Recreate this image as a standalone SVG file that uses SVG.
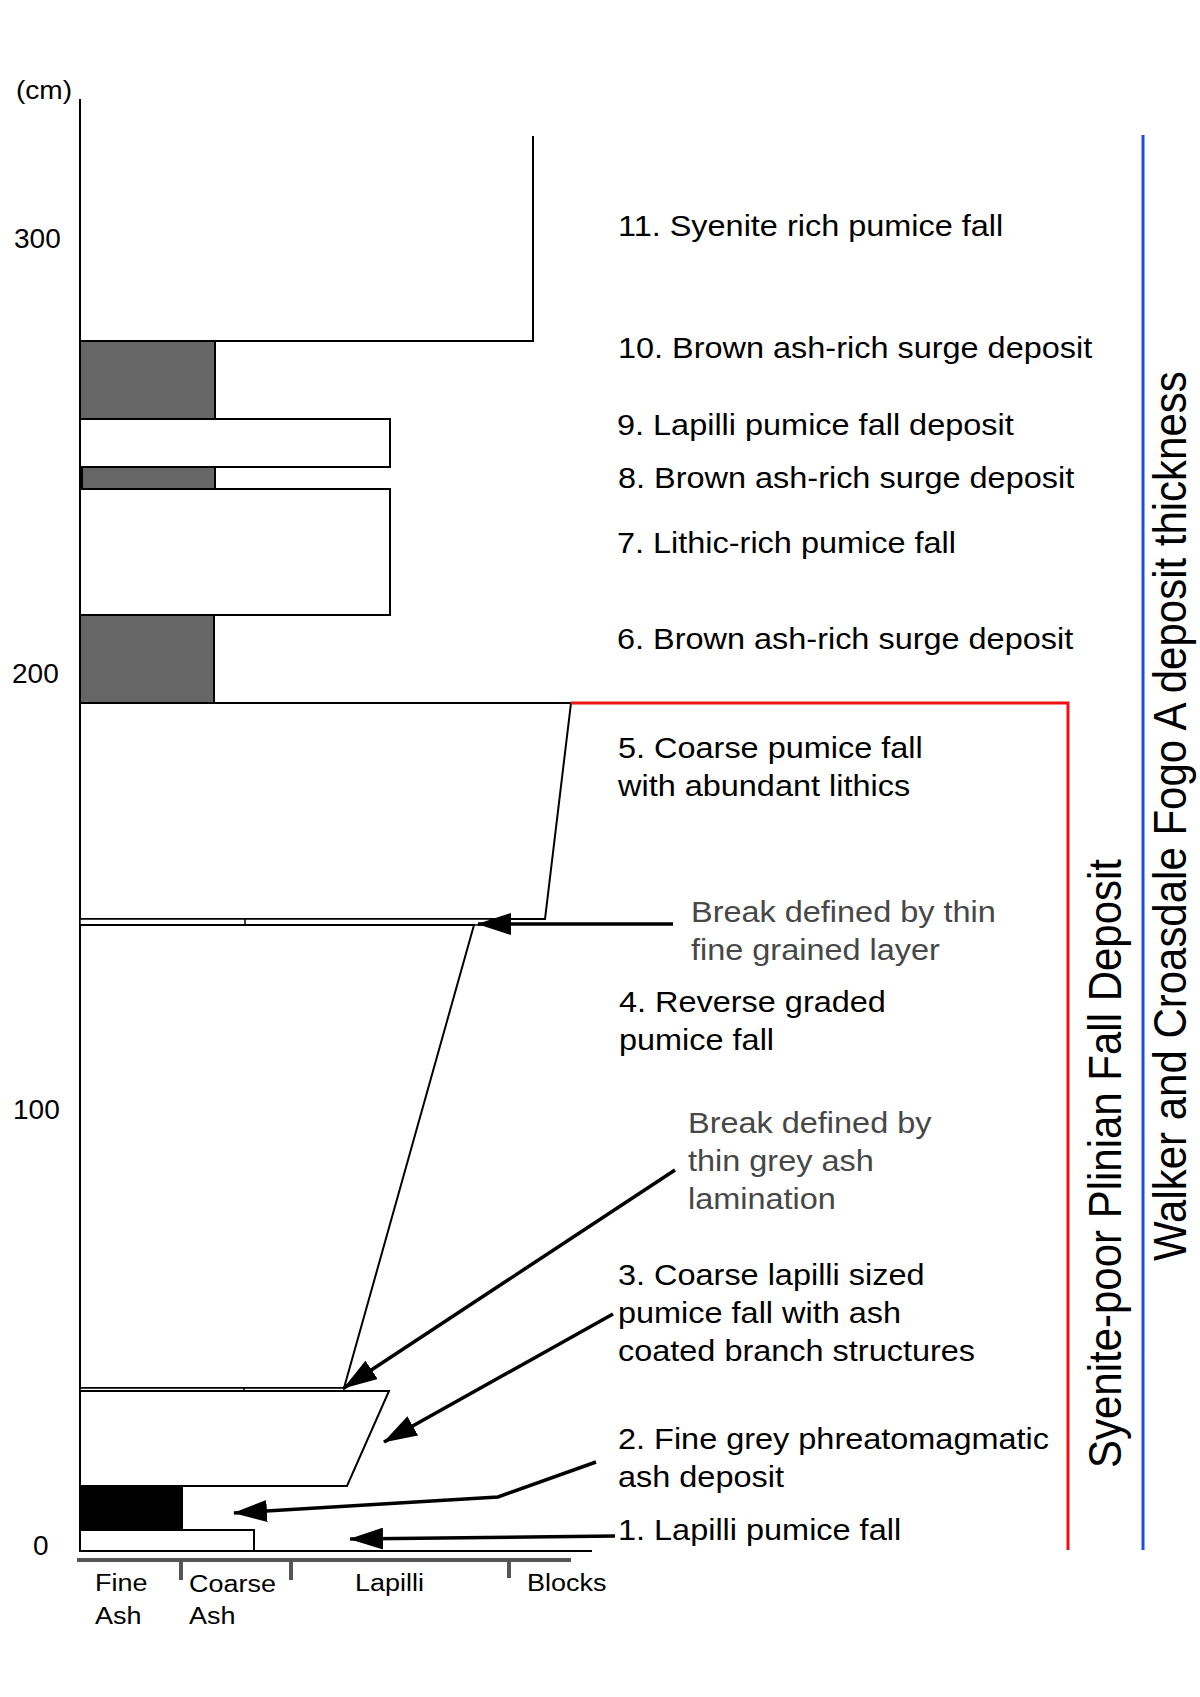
<svg xmlns="http://www.w3.org/2000/svg" width="1200" height="1697" viewBox="0 0 1200 1697">
<defs>
<style>
.ol{fill:#fff;stroke:#000;stroke-width:2;stroke-linejoin:miter}
.dk{fill:#666;stroke:#000;stroke-width:2}
.bk{fill:#000;stroke:#000;stroke-width:2}
.t{font-family:"Liberation Sans",Arial,Helvetica,sans-serif;font-size:29.5px;fill:#000}
.g{fill:#474747}
.num{font-family:"Liberation Sans",Arial,Helvetica,sans-serif;font-size:28px;fill:#000}
.gs{font-family:"Liberation Sans",Arial,Helvetica,sans-serif;font-size:24.5px;fill:#000}
.title{font-family:"Liberation Sans",Arial,Helvetica,sans-serif;font-size:42px;fill:#000}
.ar{stroke:#000;stroke-width:3.5;fill:none;marker-end:url(#ah)}
</style>
<marker id="ah" markerUnits="userSpaceOnUse" markerWidth="34" markerHeight="22" viewBox="0 0 34 22" refX="33" refY="11" orient="auto">
<path d="M0,0 L34,11 L0,22 z" fill="#000"/>
</marker>
</defs>
<rect width="1200" height="1697" fill="#fff"/>

<g id="axis">
<line x1="80" y1="99" x2="80" y2="1551" stroke="#000" stroke-width="2"/>
<text class="t" transform="translate(16 99) scale(1.1 1)" style="font-size:25.5px">(cm)</text>
<text class="num" x="14" y="248">300</text>
<text class="num" x="12" y="683">200</text>
<text class="num" x="13" y="1119">100</text>
<text class="num" x="33" y="1555">0</text>
</g>

<g id="layer11">
<polyline points="80,341 533,341 533,136" fill="none" stroke="#000" stroke-width="2"/>
</g>
<g id="layer10"><rect class="dk" x="80" y="341" width="135" height="78"/></g>
<g id="layer9"><rect class="ol" x="80" y="419" width="310" height="48"/></g>
<g id="layer8"><rect class="dk" x="82" y="467" width="133" height="22"/></g>
<g id="layer7"><rect class="ol" x="80" y="489" width="310" height="126"/></g>
<g id="layer6"><rect class="dk" x="80" y="615" width="134" height="88"/></g>
<g id="layer5"><polygon class="ol" points="80,703 571,703 545,919 80,919"/></g>
<g id="break1">
<rect x="80" y="919" width="410" height="6" fill="#fff" stroke="#000" stroke-width="1.5"/>
<line x1="245" y1="919" x2="245" y2="925" stroke="#000" stroke-width="1.5"/>
</g>
<g id="layer4"><polygon class="ol" points="80,925 474,925 344,1388 80,1388"/></g>
<g id="break2">
<rect x="80" y="1388" width="264" height="3" fill="#fff" stroke="#000" stroke-width="1.5"/>
<line x1="244" y1="1388" x2="244" y2="1391" stroke="#000" stroke-width="1.5"/>
</g>
<g id="layer3"><polygon class="ol" points="80,1391 389,1391 347,1486 80,1486"/></g>
<g id="layer2"><rect class="bk" x="80" y="1486" width="102" height="44"/></g>
<g id="layer1">
<rect class="ol" x="80" y="1530" width="174" height="21"/>
<line x1="79" y1="1551" x2="592" y2="1551" stroke="#000" stroke-width="2"/>
</g>

<g id="grainsize">
<line x1="77" y1="1560" x2="571" y2="1560" stroke="#555" stroke-width="4"/>
<line x1="181" y1="1560" x2="181" y2="1580" stroke="#555" stroke-width="4"/>
<line x1="291" y1="1560" x2="291" y2="1580" stroke="#555" stroke-width="4"/>
<line x1="509" y1="1560" x2="509" y2="1578" stroke="#555" stroke-width="4"/>
<text class="gs" transform="translate(95 1591) scale(1.1 1)">Fine<tspan x="0" dy="33">Ash</tspan></text>
<text class="gs" transform="translate(189 1592) scale(1.1 1)">Coarse<tspan x="0" dy="32">Ash</tspan></text>
<text class="gs" transform="translate(355 1591) scale(1.1 1)">Lapilli</text>
<text class="gs" transform="translate(527 1591) scale(1.1 1)">Blocks</text>
</g>

<g id="labels">
<text class="t" transform="translate(618 236) scale(1.1 1)">11. Syenite rich pumice fall</text>
<text class="t" transform="translate(618 358) scale(1.1 1)">10. Brown ash-rich surge deposit</text>
<text class="t" transform="translate(617 435) scale(1.1 1)">9. Lapilli pumice fall deposit</text>
<text class="t" transform="translate(618 488) scale(1.1 1)">8. Brown ash-rich surge deposit</text>
<text class="t" transform="translate(617 553) scale(1.1 1)">7. Lithic-rich pumice fall</text>
<text class="t" transform="translate(617 649) scale(1.1 1)">6. Brown ash-rich surge deposit</text>
<text class="t" transform="translate(618 758) scale(1.1 1)">5. Coarse pumice fall<tspan x="0" dy="38">with abundant lithics</tspan></text>
<text class="t g" transform="translate(691 922) scale(1.1 1)">Break defined by thin<tspan x="0" dy="38">fine grained layer</tspan></text>
<text class="t" transform="translate(619 1012) scale(1.1 1)">4. Reverse graded<tspan x="0" dy="38">pumice fall</tspan></text>
<text class="t g" transform="translate(688 1133) scale(1.1 1)">Break defined by<tspan x="0" dy="38">thin grey ash</tspan><tspan x="0" dy="38">lamination</tspan></text>
<text class="t" transform="translate(618 1285) scale(1.1 1)">3. Coarse lapilli sized<tspan x="0" dy="38">pumice fall with ash</tspan><tspan x="0" dy="38">coated branch structures</tspan></text>
<text class="t" transform="translate(618 1449) scale(1.1 1)">2. Fine grey phreatomagmatic<tspan x="0" dy="38">ash deposit</tspan></text>
<text class="t" transform="translate(618 1540) scale(1.1 1)">1. Lapilli pumice fall</text>
</g>

<g id="connectors">
<line class="ar" x1="673" y1="924" x2="478" y2="924"/>
<line class="ar" x1="675" y1="1170" x2="344" y2="1388"/>
<line class="ar" x1="613" y1="1314" x2="384" y2="1442"/>
<polyline class="ar" points="596,1462 498,1497 234,1513"/>
<line class="ar" x1="615" y1="1536" x2="350" y2="1539"/>
</g>

<g id="plinian">
<polyline points="571,703 1068,703 1068,1550" fill="none" stroke="#ee1111" stroke-width="3"/>
<text class="title" transform="translate(1121 1468) rotate(-90) scale(1 1.1)">Syenite-poor Plinian Fall Deposit</text>
</g>
<g id="fogoA">
<line x1="1143" y1="135" x2="1143" y2="1550" stroke="#1a4fe0" stroke-width="3"/>
<text class="title" transform="translate(1186 1261) rotate(-90) scale(1 1.1)">Walker and Croasdale Fogo A deposit thickness</text>
</g>
</svg>
